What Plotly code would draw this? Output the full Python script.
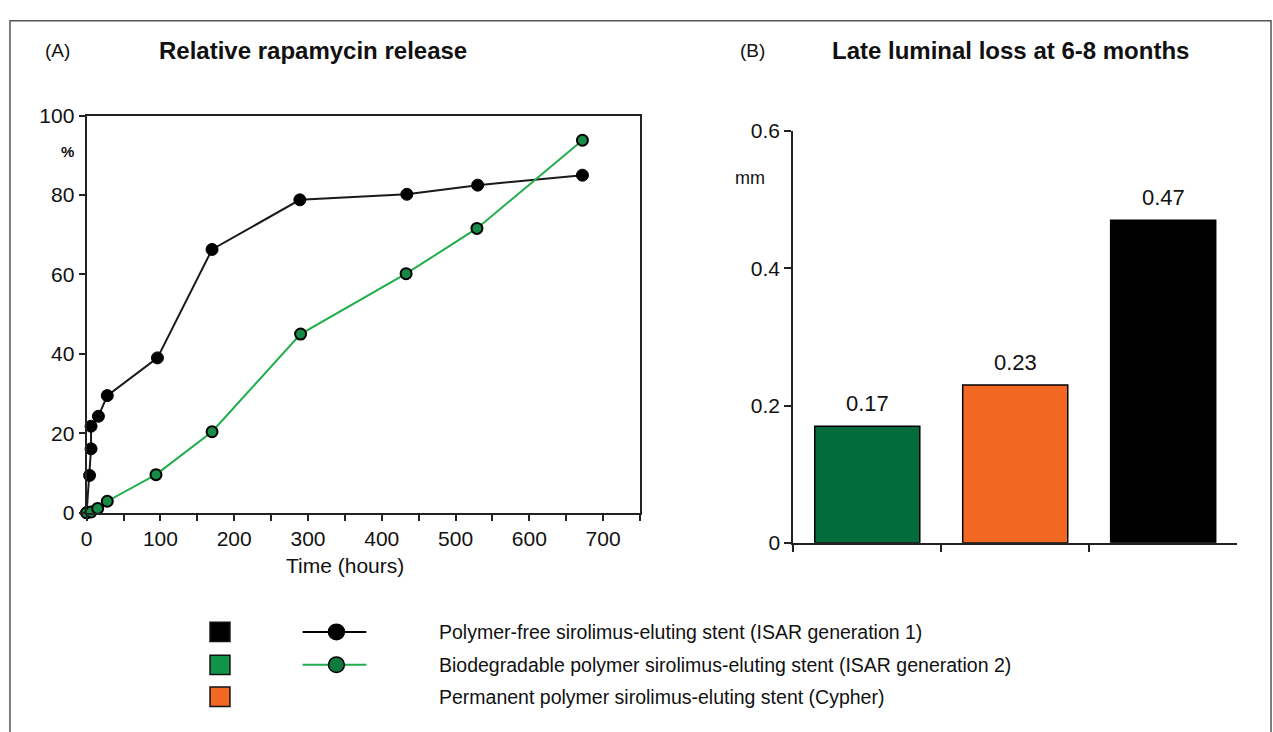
import plotly.graph_objects as go

# ---------------- data ----------------
time_free = [0, 4, 6, 6, 16, 28, 96, 170, 289, 434, 530, 672]
release_free = [0, 9.4, 16.1, 21.8, 24.3, 29.5, 39.0, 66.3, 78.8, 80.2, 82.5, 85.0]

time_bio = [0, 6, 15, 28, 94, 170, 290, 433, 529, 672]
release_bio = [0, 0.2, 1.1, 2.9, 9.6, 20.4, 45.0, 60.2, 71.6, 93.8]

stent_categories = ["Biodegradable polymer", "Permanent polymer", "Polymer-free"]
late_loss = [0.17, 0.23, 0.47]

legend_labels = [
    "Polymer-free sirolimus-eluting stent (ISAR generation 1)",
    "Biodegradable polymer sirolimus-eluting stent (ISAR generation 2)",
    "Permanent polymer sirolimus-eluting stent (Cypher)",
]

x_ticks_a = [0, 100, 200, 300, 400, 500, 600, 700]
y_ticks_a = [0, 20, 40, 60, 80, 100]
y_ticks_b = [0, 0.2, 0.4, 0.6]
y_ticktext_b = ["0", "0.2", "0.4", "0.6"]

# ---------------- style ----------------
W, H = 1273, 732
FONT = "Liberation Sans, Arial, sans-serif"
AX = "#222222"
GREEN_LINE = "#1FAE4B"
GREEN_FILL = "#178A48"
BAR_COLORS = ["#046B3D", "#F26722", "#000000"]


def px(x):
    return x / W


def py(y):
    return 1 - y / H


fig = go.Figure()

# Panel A lines
fig.add_trace(go.Scatter(
    x=time_free, y=release_free, mode="lines+markers",
    line=dict(color="#1a1a1a", width=2),
    marker=dict(size=12, color="#000000", line=dict(color="#000000", width=1)),
    xaxis="x", yaxis="y", cliponaxis=False, showlegend=False,
))
fig.add_trace(go.Scatter(
    x=time_bio, y=release_bio, mode="lines+markers",
    line=dict(color=GREEN_LINE, width=2),
    marker=dict(size=11, color=GREEN_FILL, line=dict(color="#000000", width=2)),
    xaxis="x", yaxis="y", cliponaxis=False, showlegend=False,
))

# Panel B bars
fig.add_trace(go.Bar(
    x=stent_categories, y=late_loss, marker=dict(color=BAR_COLORS, line=dict(color="#000000", width=1.5)),
    width=0.71, xaxis="x2", yaxis="y2", showlegend=False,
))

ann = []
for c, v in zip(stent_categories, late_loss):
    ann.append(dict(x=c, y=v, xref="x2", yref="y2", text=f"{v:.2f}", showarrow=False,
                    yanchor="bottom", yshift=8, font=dict(size=22, color="#111", family=FONT)))


def label(x, y, text, size, xanchor="center"):
    return dict(x=px(x), y=py(y), xref="paper", yref="paper", text=text, showarrow=False,
                xanchor=xanchor, yanchor="middle", font=dict(size=size, color="#111", family=FONT))


ann += [
    label(52, 40, "(A)", 19),
    label(308, 40, "<b>Relative rapamycin release</b>", 24),
    label(750, 40, "(B)", 19),
    label(1009, 40, "<b>Late luminal loss at 6-8 months</b>", 24),
    label(62, 144, "<b>%</b>", 15),
    label(748, 171, "mm", 18),
    label(341, 571, "Time (hours)", 21),
]

# Legend (decorative)
shapes = []
rows = [640, 674, 707]
sq_colors = ["#000000", "#109447", "#F26722"]
for r, col in zip(rows, sq_colors):
    shapes.append(dict(type="rect", xref="paper", yref="paper",
                       x0=px(205), x1=px(225), y0=py(r + 10), y1=py(r - 10),
                       fillcolor=col, line=dict(color="#111", width=1.5)))
line_cols = ["#000000", GREEN_LINE]
dot_cols = ["#000000", "#0E7A3E"]
for r, lc, dc in zip(rows[:2], line_cols, dot_cols):
    shapes.append(dict(type="line", xref="paper", yref="paper",
                       x0=px(298), x1=px(362), y0=py(r), y1=py(r), line=dict(color=lc, width=2)))
    shapes.append(dict(type="circle", xref="paper", yref="paper",
                       x0=px(324), x1=px(340), y0=py(r + 8), y1=py(r - 8),
                       fillcolor=dc, line=dict(color="#000", width=1.5)))
for r, t in zip(rows, legend_labels):
    ann.append(label(433, r, t, 19.5, xanchor="left"))

# Outer frame
shapes.append(dict(type="rect", xref="paper", yref="paper", x0=px(4), x1=px(1271), y0=-0.05, y1=py(9),
                   line=dict(color="#555", width=1.5), fillcolor="rgba(0,0,0,0)", layer="below"))

tickfont = dict(size=21, color="#111", family=FONT)

fig.update_layout(
    width=W, height=H, margin=dict(l=0, r=0, t=0, b=0),
    paper_bgcolor="white", plot_bgcolor="white",
    font=dict(family=FONT, color="#111"),
    xaxis=dict(domain=[px(81), px(637)], range=[0, 750], tickvals=x_ticks_a,
               ticks="outside", ticklen=6, tickwidth=1.5, tickcolor=AX,
               minor=dict(dtick=50, ticks="outside", ticklen=6, tickwidth=1.5, tickcolor=AX),
               showline=True, linecolor=AX, linewidth=2, mirror=True, showgrid=False, zeroline=False,
               tickfont=tickfont, anchor="y"),
    yaxis=dict(domain=[py(517), py(107)], range=[0, 100], tickvals=y_ticks_a,
               ticks="outside", ticklen=6, tickwidth=1.5, tickcolor=AX,
               showline=True, linecolor=AX, linewidth=2, mirror=True, showgrid=False, zeroline=False,
               tickfont=tickfont, anchor="x"),
    xaxis2=dict(domain=[px(791), px(1237)], range=[-0.5, 2.5], type="category", tickson="boundaries",
                ticks="outside", ticklen=7, tickwidth=1.5, tickcolor=AX, showticklabels=False,
                showline=True, linecolor=AX, linewidth=2, showgrid=False, zeroline=False, anchor="y2"),
    yaxis2=dict(domain=[py(548), py(123)], range=[0, 0.6], tickvals=y_ticks_b, ticktext=y_ticktext_b,
                ticks="outside", ticklen=7, tickwidth=1.5, tickcolor=AX,
                showline=True, linecolor=AX, linewidth=2, showgrid=False, zeroline=False,
                tickfont=tickfont, anchor="x2"),
    annotations=ann, shapes=shapes,
)

fig.write_html("out.html", post_script="document.body.style.margin='0';",
               config={"displayModeBar": False})
